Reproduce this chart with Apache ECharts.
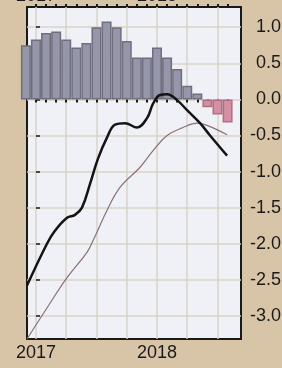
<!DOCTYPE html>
<html>
<head>
<meta charset="utf-8">
<script src="https://cdn.jsdelivr.net/npm/echarts@6/dist/echarts.min.js"></script>
<style>
  html, body { margin: 0; padding: 0; background: #d8c5a8; }
  #chart { width: 282px; height: 368px; }
</style>
</head>
<body>
<div id="chart"></div>
<script>
// month index: 0 = Jan 2017
const barMonths = [-1, 0, 1, 2, 3, 4, 5, 6, 7, 8, 9, 10, 11, 12, 13, 14, 15, 16, 17, 18, 19];
const barValues = [0.75, 0.83, 0.92, 0.94, 0.83, 0.72, 0.78, 1.0, 1.08, 1.0, 0.81, 0.58, 0.58, 0.72, 0.58, 0.42, 0.19, 0.08, -0.11, -0.21, -0.32];

// thick black line
const macdX = [-0.89, 1.09, 1.88, 3.08, 3.87, 4.56, 5.36, 6.15, 7.04, 7.84, 8.83, 10.02, 11.01, 11.61, 12.3, 13.0, 13.99, 14.98, 16.27, 17.26, 18.95];
const macdY = [-2.58, -2.0, -1.82, -1.64, -1.60, -1.50, -1.17, -0.82, -0.53, -0.35, -0.33, -0.39, -0.26, -0.06, 0.06, 0.07, -0.01, -0.15, -0.33, -0.5, -0.78];

// thin brown line
const signalX = [-0.89, 1.09, 3.08, 5.06, 5.65, 7.04, 8.33, 10.32, 11.61, 13.0, 14.58, 15.97, 16.96, 18.95];
const signalY = [-3.32, -2.89, -2.47, -2.12, -1.96, -1.54, -1.22, -0.94, -0.71, -0.5, -0.39, -0.33, -0.36, -0.49];

const tickMonths = [0, 1, 2, 3, 4, 5, 6, 7, 8, 9, 10, 11, 12, 13, 14, 15, 16, 17, 18, 19];
const gridMonths = [0, 3, 6, 9, 12, 15, 18];
const yearMonths = [0, 12];
const yearLabels = ['2017', '2018'];
const yTicks = [-3.0, -2.5, -2.0, -1.5, -1.0, -0.5, 0.0, 0.5, 1.0];

const xMin = -0.89, xMax = 20.33;

const chart = echarts.init(document.getElementById('chart'));

const labelFont = {
  fontFamily: 'Liberation Sans, Arial, sans-serif',
  fontSize: 18,
  color: '#1a1a1a'
};
const yearFmt = v => {
  const i = yearMonths.indexOf(Math.round(v));
  return i >= 0 ? yearLabels[i] : '';
};

const option = {
  backgroundColor: '#d8c5a8',
  animation: false,
  grid: {
    left: 27, right: 41, top: 7, bottom: 29,
    outerBoundsMode: 'none',
    containLabel: false,
    show: true,
    backgroundColor: '#eff1f7',
    borderColor: '#1a1a1a',
    borderWidth: 2
  },
  xAxis: [
    {
      // monthly ticks + year labels at the bottom
      type: 'value', position: 'bottom', min: xMin, max: xMax,
      axisLine: { show: false },
      axisTick: { show: true, inside: false, length: 3, customValues: tickMonths,
        lineStyle: { color: '#1a1a1a', width: 2 } },
      axisLabel: Object.assign({ customValues: yearMonths, formatter: yearFmt, margin: 5 }, labelFont),
      splitLine: { show: false }
    },
    {
      // quarterly vertical grid lines
      type: 'value', position: 'bottom', min: xMin, max: xMax,
      axisLine: { show: false },
      axisTick: { show: false, customValues: gridMonths },
      axisLabel: { show: false },
      splitLine: { show: true, lineStyle: { color: '#d9d2c8', width: 1.5 } }
    },
    {
      // top axis, labels mostly cut off by the page edge
      type: 'value', position: 'top', min: xMin, max: xMax,
      axisLine: { show: false },
      axisTick: { show: true, length: 3, customValues: tickMonths,
        lineStyle: { color: '#1a1a1a', width: 2 } },
      axisLabel: Object.assign({ customValues: yearMonths, formatter: yearFmt, margin: 2 }, labelFont),
      splitLine: { show: false }
    }
  ],
  yAxis: {
    type: 'value', position: 'right', min: -3.32, max: 1.28,
    axisLine: { show: false },
    axisTick: { show: true, length: 4, customValues: yTicks,
      lineStyle: { color: '#1a1a1a', width: 1.5 } },
    axisLabel: Object.assign({ customValues: yTicks, align: 'right', margin: 40,
      formatter: v => v.toFixed(1) }, labelFont),
    splitLine: { show: true, lineStyle: { color: '#d9d2c8', width: 1.5 } }
  },
  series: [
    {
      type: 'bar',
      xAxisIndex: 0,
      barWidth: 10,
      clip: true,
      data: barMonths.map((m, i) => ({
        value: [m, barValues[i]],
        itemStyle: barValues[i] >= 0
          ? { color: '#9696aa', borderColor: '#6e6e7e', borderWidth: 1.5 }
          : { color: '#d490a2', borderColor: '#b06e82', borderWidth: 1.5 }
      }))
    },
    {
      type: 'line',
      xAxisIndex: 0,
      smooth: 0.4,
      showSymbol: false,
      clip: true,
      lineStyle: { color: '#8c7171', width: 1.2 },
      data: signalX.map((x, i) => [x, signalY[i]])
    },
    {
      type: 'line',
      xAxisIndex: 0,
      smooth: 0.4,
      showSymbol: false,
      clip: true,
      lineStyle: { color: '#141414', width: 2.5 },
      data: macdX.map((x, i) => [x, macdY[i]])
    }
  ]
};

chart.setOption(option);
</script>
</body>
</html>
